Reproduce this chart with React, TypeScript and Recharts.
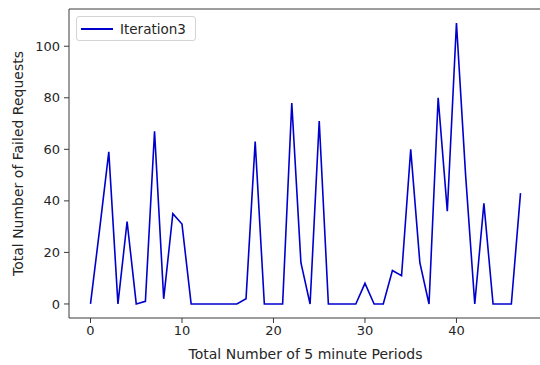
import { Line, LineChart, ReferenceLine, XAxis, YAxis } from "recharts";

const periods = Array.from({ length: 48 }, (_, i) => i);
const failedRequests = [
  0, 29, 59, 0, 32, 0, 1, 67, 2, 35, 31, 0,
  0, 0, 0, 0, 0, 2, 63, 0, 0, 0, 78, 16,
  0, 71, 0, 0, 0, 0, 8, 0, 0, 13, 11, 60,
  16, 0, 80, 36, 109, 50, 0, 39, 0, 0, 0, 43
];
const xTicks = [0, 10, 20, 30, 40];
const yTicks = [0, 20, 40, 60, 80, 100];
const seriesName = "Iteration3";

const data = periods.map((p, i) => ({ period: p, failed: failedRequests[i] }));

const font = "'DejaVu Sans', sans-serif";
const lineColor = "#0000cd";
const spine = "#3a3a3a";
const yTop = 114.45;

// matplotlib-style legend box in the upper left corner
function LegendBox() {
  return (
    <div
      style={{
        position: "absolute",
        left: 76,
        top: 16,
        width: 120,
        height: 25,
        boxSizing: "border-box",
        border: "1px solid #d4d4d4",
        borderRadius: 3,
        background: "rgba(255,255,255,0.8)",
        display: "flex",
        alignItems: "center",
        fontFamily: font,
        fontSize: 13.5,
        color: "#262626"
      }}
    >
      <svg width={40} height={10} style={{ marginLeft: 3 }}>
        <line x1={1} y1={5} x2={33} y2={5} stroke={lineColor} strokeWidth={2} />
      </svg>
      <span>{seriesName}</span>
    </div>
  );
}

export default function App() {
  return (
    <div
      style={{
        position: "absolute",
        left: 0,
        top: 0,
        width: 540,
        height: 365,
        overflow: "hidden",
        background: "#fff"
      }}
    >
      <LineChart
        width={542}
        height={365}
        data={data}
        margin={{ top: 9, right: 0, left: 0, bottom: 0 }}
      >
        <XAxis
          dataKey="period"
          type="number"
          domain={[-2.35, 49.35]}
          ticks={xTicks}
          allowDataOverflow
          height={47}
          tickSize={5}
          tickMargin={3}
          stroke={spine}
          tick={{ fill: "#262626", fontSize: 13, fontFamily: font }}
          label={{
            value: "Total Number of 5 minute Periods",
            position: "center",
            dy: 13,
            fill: "#262626",
            fontSize: 14,
            fontFamily: font
          }}
        />
        <YAxis
          type="number"
          domain={[-5.45, yTop]}
          ticks={yTicks}
          allowDataOverflow
          width={69}
          tickSize={5}
          tickMargin={4}
          stroke={spine}
          tick={{ fill: "#262626", fontSize: 13, fontFamily: font }}
          label={{
            value: "Total Number of Failed Requests",
            angle: -90,
            position: "center",
            dx: -16,
            fill: "#262626",
            fontSize: 14,
            fontFamily: font
          }}
        />
        <ReferenceLine y={yTop} stroke={spine} />
        <Line
          dataKey="failed"
          name={seriesName}
          type="linear"
          stroke={lineColor}
          strokeWidth={1.6}
          dot={false}
          activeDot={false}
          isAnimationActive={false}
        />
      </LineChart>
      <LegendBox />
    </div>
  );
}
